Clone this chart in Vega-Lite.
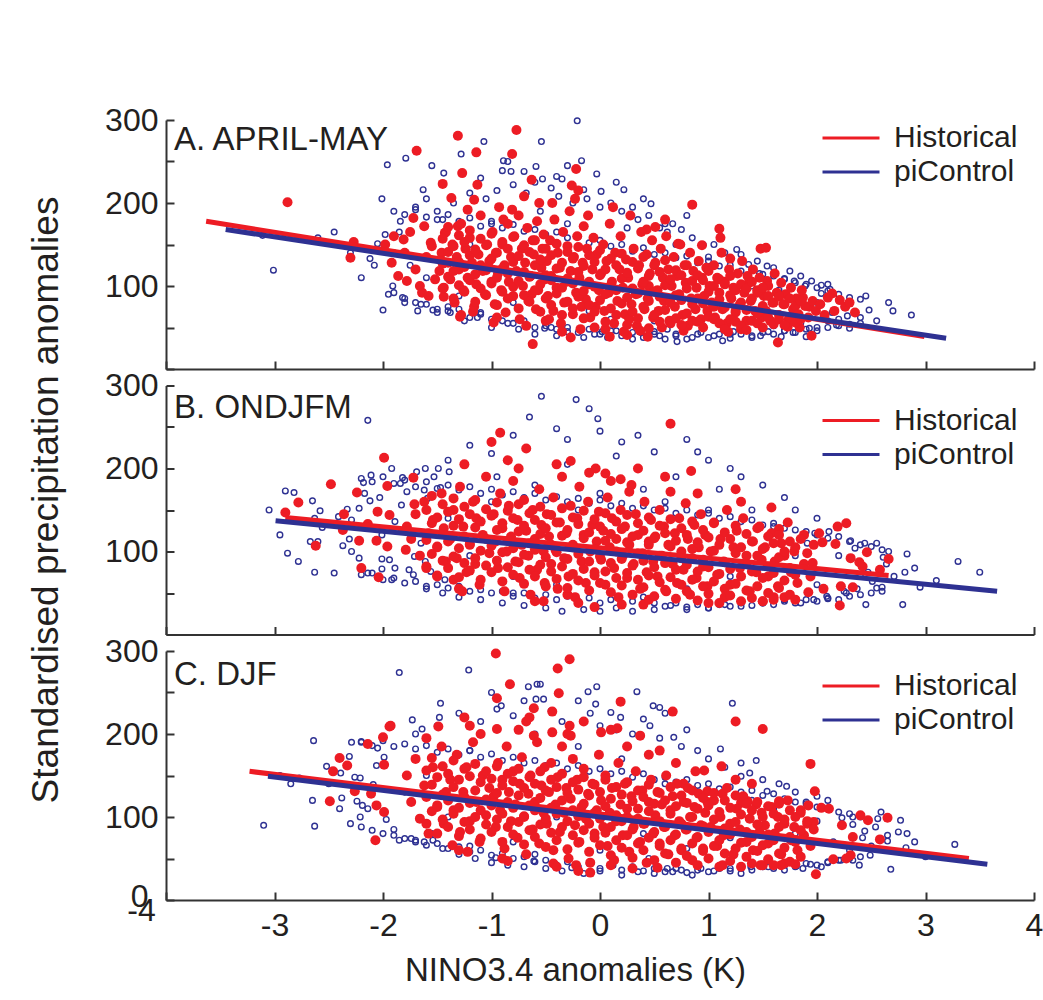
{
"$schema":"https://vega.github.io/schema/vega-lite/v6.json",
"padding":{"left":26,"top":104,"right":2,"bottom":2},
"config":{"font":"Liberation Sans","view":{"stroke":null},"axis":{"domainColor":"#333333","domainWidth":2,"tickColor":"#333333","tickWidth":2,"tickSize":-8,"grid":false,"labelFont":"Liberation Sans","labelFontSize":32,"labelColor":"#231f20","titleFont":"Liberation Sans","titleFontWeight":"normal","titleColor":"#231f20"}},
"datasets":{
"lines":[{"p":"A","s":"Historical","x":-3.63,"y":178},{"p":"A","s":"Historical","x":2.99,"y":39},{"p":"A","s":"piControl","x":-3.45,"y":168},{"p":"A","s":"piControl","x":3.19,"y":37},
{"p":"B","s":"Historical","x":-2.9,"y":141},{"p":"B","s":"Historical","x":2.66,"y":71},{"p":"B","s":"piControl","x":-2.99,"y":137},{"p":"B","s":"piControl","x":3.66,"y":52},
{"p":"C","s":"Historical","x":-3.23,"y":155},{"p":"C","s":"Historical","x":3.4,"y":50},{"p":"C","s":"piControl","x":-3.06,"y":149},{"p":"C","s":"piControl","x":3.57,"y":43}],
"labels":[{"p":"A","label":"A. APRIL-MAY"},{"p":"B","label":"B. ONDJFM"},{"p":"C","label":"C. DJF"}],
"A_pi":[{"x":-0.21,"y":299},{"x":-1.07,"y":274},{"x":-0.54,"y":274},{"x":-1.79,"y":254},{"x":-1.96,"y":246},{"x":-1.55,"y":245},{"x":-1.28,"y":259},{"x":-0.89,"y":251},{"x":-0.85,"y":250},{"x":-0.59,"y":244},{"x":-0.17,"y":251},{"x":-0.03,"y":235},{"x":-0.3,"y":245},{"x":-0.82,"y":238},{"x":-0.9,"y":239},{"x":-1.44,"y":236},{"x":-0.53,"y":229},{"x":-0.35,"y":229},{"x":-1.63,"y":216},{"x":-0.15,"y":216},{"x":0.22,"y":216},{"x":0.01,"y":214},{"x":0.47,"y":199},{"x":0.6,"y":175},{"x":0.67,"y":175},{"x":1.11,"y":160},{"x":1.26,"y":144},{"x":1.37,"y":126},{"x":1.54,"y":124},{"x":1.47,"y":115},{"x":-2.0,"y":71},{"x":-1.82,"y":86},{"x":-1.68,"y":70},{"x":-1.54,"y":71},{"x":-1.38,"y":68},{"x":-1.13,"y":62},{"x":-0.51,"y":49},{"x":0.02,"y":45},{"x":0.71,"y":33},{"x":1.13,"y":34},{"x":1.48,"y":40},{"x":1.23,"y":45},{"x":1.36,"y":47},{"x":0.93,"y":44},{"x":0.5,"y":45},{"x":-3.01,"y":119},{"x":-2.45,"y":165},{"x":-2.01,"y":205},{"x":-2.12,"y":133},{"x":-2.08,"y":125},{"x":-2.05,"y":151},{"x":-1.98,"y":162},{"x":-1.91,"y":100},{"x":-3.11,"y":161},{"x":-1.85,"y":165},{"x":-1.84,"y":178},{"x":2.66,"y":80},{"x":2.48,"y":71},{"x":2.87,"y":65},{"x":2.3,"y":49},{"x":2.04,"y":101},{"x":2.04,"y":91},{"x":2.12,"y":96},{"x":2.14,"y":68},{"x":2.28,"y":64},{"x":2.18,"y":53},{"x":1.7,"y":109},{"x":1.89,"y":100},{"x":1.79,"y":106},{"x":1.78,"y":44},{"x":1.67,"y":39},{"x":1.9,"y":39},{"x":1.93,"y":49},
{"x":-1.5,"y":190},{"x":-1.35,"y":200},{"x":-1.2,"y":212},{"x":-1.05,"y":205},{"x":-0.95,"y":215},{"x":-0.8,"y":222},{"x":-0.68,"y":212},{"x":-0.6,"y":225},{"x":-0.45,"y":218},{"x":-0.38,"y":208},{"x":-0.25,"y":200},{"x":-0.12,"y":205},{"x":0.0,"y":195},{"x":0.1,"y":200},{"x":0.2,"y":190},{"x":0.3,"y":195},{"x":0.35,"y":180},{"x":0.45,"y":185},{"x":0.55,"y":170},{"x":0.62,"y":165},{"x":0.75,"y":168},{"x":0.85,"y":158},{"x":0.95,"y":150},{"x":1.05,"y":150},{"x":1.15,"y":140},{"x":1.3,"y":138},{"x":1.45,"y":130},{"x":1.6,"y":122},{"x":1.75,"y":118},{"x":1.85,"y":112},{"x":1.95,"y":106},{"x":2.1,"y":102},{"x":-1.7,"y":195},{"x":-1.6,"y":205},{"x":-1.1,"y":230},{"x":-0.7,"y":238},{"x":-0.4,"y":232},{"x":0.15,"y":225},{"x":0.4,"y":205},{"x":0.8,"y":185},
{"x":-1.95,"y":90},{"x":-1.8,"y":80},{"x":-1.65,"y":78},{"x":-1.5,"y":68},{"x":-1.4,"y":75},{"x":-1.25,"y":58},{"x":-1.1,"y":68},{"x":-1.0,"y":50},{"x":-0.85,"y":55},{"x":-0.75,"y":48},{"x":-0.6,"y":42},{"x":-0.45,"y":50},{"x":-0.4,"y":40},{"x":-0.3,"y":45},{"x":-0.15,"y":38},{"x":-0.05,"y":42},{"x":0.07,"y":38},{"x":0.15,"y":46},{"x":0.3,"y":36},{"x":0.38,"y":44},{"x":0.55,"y":40},{"x":0.62,"y":48},{"x":0.7,"y":42},{"x":0.85,"y":38},{"x":0.95,"y":52},{"x":1.05,"y":40},{"x":1.2,"y":42},{"x":1.3,"y":52},{"x":1.4,"y":38},{"x":1.55,"y":45},{"x":1.6,"y":52},{"x":1.7,"y":46},{"x":1.85,"y":55},{"x":2.0,"y":50},{"x":2.1,"y":58},{"x":2.2,"y":60},{"x":2.4,"y":62},{"x":2.55,"y":58},
{"x":-1.9,"y":140},{"x":-1.75,"y":125},{"x":-1.6,"y":110},{"x":-1.45,"y":180},{"x":-1.3,"y":88},{"x":-1.2,"y":150},{"x":-1.0,"y":175},{"x":-0.8,"y":80},{"x":-0.55,"y":190},{"x":-0.3,"y":175},{"x":-0.1,"y":70},{"x":0.1,"y":60},{"x":0.25,"y":170},{"x":0.5,"y":58},{"x":0.7,"y":150},{"x":1.0,"y":135},{"x":1.2,"y":60},{"x":1.4,"y":100},{"x":1.65,"y":95},{"x":2.0,"y":80},{"x":2.25,"y":75},{"x":2.45,"y":88},{"x":2.7,"y":70},{"x":-2.3,"y":140},{"x":-2.6,"y":158},{"x":-2.2,"y":110},
{"x":-1.9,"y":190},{"x":-1.9,"y":92},{"x":-1.8,"y":186},{"x":-1.8,"y":85},{"x":-1.7,"y":192},{"x":-1.7,"y":80},{"x":-1.6,"y":183},{"x":-1.6,"y":78},{"x":-1.5,"y":180},{"x":-1.5,"y":72},{"x":-1.4,"y":186},{"x":-1.4,"y":70},{"x":-1.3,"y":178},{"x":-1.3,"y":72},{"x":-1.2,"y":182},{"x":-1.2,"y":62},{"x":-1.1,"y":172},{"x":-1.1,"y":66},{"x":-1.0,"y":178},{"x":-1.0,"y":60},{"x":-0.9,"y":170},{"x":-0.9,"y":58},{"x":-0.8,"y":174},{"x":-0.8,"y":55},{"x":-0.7,"y":166},{"x":-0.7,"y":58},{"x":-0.6,"y":168},{"x":-0.6,"y":50},{"x":-0.5,"y":162},{"x":-0.5,"y":52},{"x":-0.4,"y":165},{"x":-0.4,"y":48},{"x":-0.3,"y":158},{"x":-0.3,"y":50},{"x":-0.2,"y":160},{"x":-0.2,"y":44},{"x":-0.1,"y":152},{"x":-0.1,"y":48},{"x":0.0,"y":155},{"x":0.0,"y":42},{"x":0.1,"y":148},{"x":0.1,"y":46},{"x":0.2,"y":150},{"x":0.2,"y":40},{"x":0.3,"y":142},{"x":0.3,"y":44},{"x":0.4,"y":146},{"x":0.4,"y":38},{"x":0.5,"y":138},{"x":0.5,"y":42},{"x":0.6,"y":140},{"x":0.6,"y":36},{"x":0.7,"y":134},{"x":0.7,"y":40},{"x":0.8,"y":136},{"x":0.8,"y":36},{"x":0.9,"y":128},{"x":0.9,"y":42},{"x":1.0,"y":130},{"x":1.0,"y":38},{"x":1.1,"y":124},{"x":1.1,"y":42},{"x":1.2,"y":125},{"x":1.2,"y":37},{"x":1.3,"y":118},{"x":1.3,"y":42},{"x":1.4,"y":120},{"x":1.4,"y":40},{"x":1.5,"y":114},{"x":1.5,"y":44},{"x":1.6,"y":112},{"x":1.6,"y":42},{"x":1.7,"y":108},{"x":1.7,"y":46},{"x":1.8,"y":104},{"x":1.8,"y":44},{"x":1.9,"y":102},{"x":1.9,"y":48},{"x":2.0,"y":98},{"x":2.0,"y":46},{"x":2.1,"y":94},{"x":2.1,"y":50},{"x":2.2,"y":90},{"x":2.2,"y":52},{"x":2.3,"y":86},{"x":2.3,"y":54},{"x":2.4,"y":84},{"x":2.4,"y":55}],
"A_hist":[{"x":-2.88,"y":201},{"x":-2.27,"y":153},{"x":-2.3,"y":134},{"x":-1.72,"y":182},{"x":-1.69,"y":263},{"x":-0.77,"y":288},{"x":-1.31,"y":281},{"x":-1.14,"y":261},{"x":-0.81,"y":259},{"x":-1.27,"y":236},{"x":-1.45,"y":223},{"x":-1.13,"y":222},{"x":-0.63,"y":228},{"x":-0.22,"y":241},{"x":-0.26,"y":221},{"x":-0.2,"y":215},{"x":0.85,"y":198},{"x":1.1,"y":169},{"x":1.11,"y":158},{"x":1.48,"y":145},{"x":-0.62,"y":30},{"x":-0.27,"y":38},{"x":0.44,"y":39},{"x":0.09,"y":39},{"x":0.25,"y":41},{"x":1.64,"y":32},{"x":-0.98,"y":56},{"x":-1.29,"y":63},{"x":-1.64,"y":92},{"x":-1.37,"y":206},{"x":0.51,"y":171},{"x":0.43,"y":168},{"x":0.94,"y":149},{"x":0.72,"y":151},{"x":1.2,"y":133},{"x":1.36,"y":112},{"x":1.53,"y":146},{"x":1.54,"y":106},{"x":2.14,"y":91},{"x":2.21,"y":83},{"x":2.26,"y":75},{"x":1.95,"y":40},{"x":1.84,"y":50},{"x":1.73,"y":51},{"x":1.93,"y":75},{"x":1.87,"y":86},{"x":-1.62,"y":172},{"x":-1.81,"y":156},{"x":-1.78,"y":106},{"x":-1.44,"y":87},{"x":-1.28,"y":65},{"x":-1.17,"y":69},{"x":-1.56,"y":152},{"x":-1.43,"y":164},{"x":-1.31,"y":172},{"x":-1.22,"y":192},{"x":-1.16,"y":204},
{"x":-1.98,"y":150},{"x":-1.92,"y":128},{"x":-1.86,"y":112},{"x":-1.8,"y":140},{"x":-1.75,"y":165},{"x":-1.7,"y":120},{"x":-1.66,"y":100},{"x":-1.6,"y":135},{"x":-1.55,"y":148},{"x":-1.52,"y":108},{"x":-1.58,"y":88},{"x":-1.9,"y":160},
{"x":-1.48,"y":118},{"x":-1.46,"y":140},{"x":-1.44,"y":98},{"x":-1.42,"y":165},{"x":-1.4,"y":128},{"x":-1.38,"y":108},{"x":-1.36,"y":150},{"x":-1.34,"y":80},{"x":-1.32,"y":135},{"x":-1.3,"y":120},{"x":-1.28,"y":175},{"x":-1.26,"y":95},{"x":-1.24,"y":145},{"x":-1.22,"y":110},{"x":-1.2,"y":158},{"x":-1.18,"y":128},{"x":-1.16,"y":75},{"x":-1.14,"y":102},{"x":-1.12,"y":138},{"x":-1.1,"y":185},{"x":-1.08,"y":118},{"x":-1.06,"y":90},{"x":-1.04,"y":150},{"x":-1.02,"y":130},{"x":-1.0,"y":105},
{"x":-0.99,"y":165},{"x":-0.97,"y":78},{"x":-0.96,"y":140},{"x":-0.94,"y":115},{"x":-0.93,"y":195},{"x":-0.91,"y":95},{"x":-0.9,"y":150},{"x":-0.88,"y":125},{"x":-0.87,"y":68},{"x":-0.85,"y":175},{"x":-0.84,"y":105},{"x":-0.82,"y":135},{"x":-0.8,"y":88},{"x":-0.79,"y":160},{"x":-0.77,"y":118},{"x":-0.75,"y":185},{"x":-0.74,"y":60},{"x":-0.72,"y":145},{"x":-0.71,"y":100},{"x":-0.69,"y":128},{"x":-0.67,"y":170},{"x":-0.66,"y":82},{"x":-0.64,"y":112},{"x":-0.62,"y":155},{"x":-0.61,"y":138},{"x":-0.59,"y":72},{"x":-0.57,"y":95},{"x":-0.56,"y":200},{"x":-0.54,"y":122},{"x":-0.52,"y":162},{"x":-0.51,"y":108},{"x":-0.5,"y":58},{"x":-0.53,"y":145},{"x":-0.58,"y":178},{"x":-0.68,"y":52},{"x":-0.81,"y":192},{"x":-0.95,"y":62},{"x":-0.89,"y":180},{"x":-0.63,"y":90},{"x":-0.7,"y":208},
{"x":-0.49,"y":130},{"x":-0.48,"y":88},{"x":-0.46,"y":155},{"x":-0.45,"y":112},{"x":-0.43,"y":70},{"x":-0.42,"y":180},{"x":-0.4,"y":98},{"x":-0.39,"y":140},{"x":-0.37,"y":122},{"x":-0.36,"y":55},{"x":-0.34,"y":165},{"x":-0.33,"y":80},{"x":-0.31,"y":105},{"x":-0.3,"y":148},{"x":-0.28,"y":190},{"x":-0.27,"y":118},{"x":-0.25,"y":66},{"x":-0.24,"y":135},{"x":-0.22,"y":92},{"x":-0.21,"y":160},{"x":-0.19,"y":110},{"x":-0.18,"y":48},{"x":-0.16,"y":128},{"x":-0.15,"y":172},{"x":-0.13,"y":84},{"x":-0.12,"y":145},{"x":-0.1,"y":102},{"x":-0.09,"y":62},{"x":-0.07,"y":120},{"x":-0.06,"y":158},{"x":-0.04,"y":75},{"x":-0.03,"y":138},{"x":-0.01,"y":95},{"x":-0.44,"y":200},{"x":-0.35,"y":45},{"x":-0.23,"y":205},{"x":-0.11,"y":185},{"x":-0.05,"y":50},{"x":-0.47,"y":60},{"x":-0.17,"y":75},
{"x":0.01,"y":115},{"x":0.03,"y":150},{"x":0.04,"y":70},{"x":0.06,"y":130},{"x":0.08,"y":92},{"x":0.09,"y":175},{"x":0.11,"y":105},{"x":0.13,"y":55},{"x":0.14,"y":140},{"x":0.16,"y":82},{"x":0.18,"y":120},{"x":0.19,"y":160},{"x":0.21,"y":98},{"x":0.23,"y":66},{"x":0.24,"y":132},{"x":0.26,"y":110},{"x":0.28,"y":185},{"x":0.29,"y":78},{"x":0.31,"y":145},{"x":0.33,"y":90},{"x":0.34,"y":52},{"x":0.36,"y":125},{"x":0.38,"y":165},{"x":0.39,"y":102},{"x":0.41,"y":72},{"x":0.43,"y":138},{"x":0.44,"y":85},{"x":0.46,"y":115},{"x":0.48,"y":155},{"x":0.49,"y":62},{"x":0.12,"y":195},{"x":0.22,"y":45},{"x":0.37,"y":46},{"x":0.05,"y":48},{"x":0.27,"y":60},{"x":0.45,"y":100},
{"x":0.51,"y":128},{"x":0.53,"y":95},{"x":0.54,"y":70},{"x":0.56,"y":145},{"x":0.58,"y":110},{"x":0.59,"y":82},{"x":0.61,"y":160},{"x":0.63,"y":120},{"x":0.64,"y":58},{"x":0.66,"y":100},{"x":0.68,"y":135},{"x":0.69,"y":75},{"x":0.71,"y":112},{"x":0.73,"y":90},{"x":0.74,"y":150},{"x":0.76,"y":65},{"x":0.78,"y":125},{"x":0.79,"y":104},{"x":0.81,"y":52},{"x":0.83,"y":140},{"x":0.84,"y":85},{"x":0.86,"y":118},{"x":0.88,"y":72},{"x":0.89,"y":98},{"x":0.91,"y":130},{"x":0.93,"y":60},{"x":0.94,"y":110},{"x":0.96,"y":88},{"x":0.98,"y":122},{"x":0.99,"y":70},{"x":0.6,"y":180},{"x":0.77,"y":46},{"x":0.57,"y":50},
{"x":1.01,"y":100},{"x":1.03,"y":80},{"x":1.05,"y":125},{"x":1.06,"y":62},{"x":1.08,"y":110},{"x":1.1,"y":92},{"x":1.12,"y":140},{"x":1.13,"y":72},{"x":1.15,"y":105},{"x":1.17,"y":55},{"x":1.19,"y":120},{"x":1.21,"y":85},{"x":1.23,"y":98},{"x":1.25,"y":68},{"x":1.27,"y":115},{"x":1.29,"y":78},{"x":1.31,"y":130},{"x":1.33,"y":92},{"x":1.35,"y":58},{"x":1.37,"y":104},{"x":1.39,"y":82},{"x":1.41,"y":120},{"x":1.43,"y":70},{"x":1.45,"y":95},{"x":1.47,"y":110},{"x":1.49,"y":62},{"x":1.18,"y":45},{"x":1.3,"y":48},
{"x":1.51,"y":88},{"x":1.53,"y":70},{"x":1.55,"y":100},{"x":1.57,"y":58},{"x":1.59,"y":80},{"x":1.61,"y":115},{"x":1.63,"y":92},{"x":1.65,"y":65},{"x":1.67,"y":104},{"x":1.69,"y":78},{"x":1.71,"y":90},{"x":1.74,"y":60},{"x":1.76,"y":98},{"x":1.78,"y":72},{"x":1.81,"y":85},{"x":1.83,"y":66},{"x":1.86,"y":95},{"x":1.89,"y":76},{"x":1.92,"y":62},{"x":1.96,"y":82},{"x":1.99,"y":70},
{"x":2.03,"y":78},{"x":2.07,"y":65},{"x":2.1,"y":86},{"x":2.16,"y":70},{"x":2.3,"y":80},{"x":2.35,"y":68},
{"x":-1.45,"y":97},{"x":-1.45,"y":127},{"x":-1.45,"y":157},{"x":-1.4,"y":111},{"x":-1.4,"y":141},{"x":-1.4,"y":171},{"x":-1.35,"y":85},{"x":-1.35,"y":118},{"x":-1.35,"y":148},{"x":-1.3,"y":101},{"x":-1.3,"y":129},{"x":-1.3,"y":161},{"x":-1.25,"y":93},{"x":-1.25,"y":123},{"x":-1.25,"y":153},{"x":-1.2,"y":107},{"x":-1.2,"y":137},{"x":-1.2,"y":167},{"x":-1.15,"y":81},{"x":-1.15,"y":114},{"x":-1.15,"y":144},{"x":-1.1,"y":97},{"x":-1.1,"y":125},{"x":-1.1,"y":157},{"x":-1.05,"y":89},{"x":-1.05,"y":119},{"x":-1.05,"y":149},{"x":-1.0,"y":103},{"x":-1.0,"y":133},{"x":-1.0,"y":163},{"x":-0.95,"y":77},{"x":-0.95,"y":110},{"x":-0.95,"y":140},{"x":-0.9,"y":93},{"x":-0.9,"y":121},{"x":-0.9,"y":153},{"x":-0.85,"y":85},{"x":-0.85,"y":115},{"x":-0.85,"y":145},{"x":-0.8,"y":99},{"x":-0.8,"y":129},{"x":-0.8,"y":159},{"x":-0.75,"y":73},{"x":-0.75,"y":106},{"x":-0.75,"y":136},{"x":-0.7,"y":89},{"x":-0.7,"y":117},{"x":-0.7,"y":149},{"x":-0.65,"y":81},{"x":-0.65,"y":111},{"x":-0.65,"y":141},{"x":-0.6,"y":95},{"x":-0.6,"y":125},{"x":-0.6,"y":155},{"x":-0.55,"y":69},{"x":-0.55,"y":102},{"x":-0.55,"y":132},{"x":-0.5,"y":85},{"x":-0.5,"y":113},{"x":-0.5,"y":145},{"x":-0.45,"y":77},{"x":-0.45,"y":107},{"x":-0.45,"y":137},{"x":-0.4,"y":91},{"x":-0.4,"y":121},{"x":-0.4,"y":151},{"x":-0.35,"y":65},{"x":-0.35,"y":98},{"x":-0.35,"y":128},{"x":-0.3,"y":81},{"x":-0.3,"y":109},{"x":-0.3,"y":141},{"x":-0.25,"y":73},{"x":-0.25,"y":103},{"x":-0.25,"y":133},{"x":-0.2,"y":87},{"x":-0.2,"y":117},{"x":-0.2,"y":147},{"x":-0.15,"y":61},{"x":-0.15,"y":94},{"x":-0.15,"y":124},{"x":-0.1,"y":77},{"x":-0.1,"y":105},{"x":-0.1,"y":137},{"x":-0.05,"y":69},{"x":-0.05,"y":99},{"x":-0.05,"y":129},{"x":0.0,"y":83},{"x":0.0,"y":113},{"x":0.0,"y":143},{"x":0.05,"y":57},{"x":0.05,"y":90},{"x":0.05,"y":120},{"x":0.1,"y":73},{"x":0.1,"y":101},{"x":0.1,"y":133},{"x":0.15,"y":65},{"x":0.15,"y":95},{"x":0.15,"y":125},{"x":0.2,"y":79},{"x":0.2,"y":109},{"x":0.2,"y":139},{"x":0.25,"y":53},{"x":0.25,"y":86},{"x":0.25,"y":116},{"x":0.3,"y":69},{"x":0.3,"y":97},{"x":0.3,"y":129},{"x":0.35,"y":61},{"x":0.35,"y":91},{"x":0.35,"y":121},{"x":0.4,"y":75},{"x":0.4,"y":105},{"x":0.4,"y":135},{"x":0.45,"y":49},{"x":0.45,"y":82},{"x":0.45,"y":112},{"x":0.5,"y":65},{"x":0.5,"y":93},{"x":0.5,"y":125},{"x":0.55,"y":57},{"x":0.55,"y":87},{"x":0.55,"y":117},{"x":0.6,"y":71},{"x":0.6,"y":101},{"x":0.6,"y":131},{"x":0.65,"y":55},{"x":0.65,"y":80},{"x":0.65,"y":108},{"x":0.7,"y":61},{"x":0.7,"y":89},{"x":0.7,"y":119},{"x":0.75,"y":53},{"x":0.75,"y":83},{"x":0.75,"y":113},{"x":0.8,"y":67},{"x":0.8,"y":97},{"x":0.8,"y":125},{"x":0.85,"y":58},{"x":0.85,"y":78},{"x":0.85,"y":106},{"x":0.9,"y":57},{"x":0.9,"y":85},{"x":0.9,"y":113},{"x":0.95,"y":50},{"x":0.95,"y":79},{"x":0.95,"y":107},{"x":1.0,"y":63},{"x":1.0,"y":93},{"x":1.0,"y":118},{"x":1.05,"y":60},{"x":1.05,"y":75},{"x":1.05,"y":100},{"x":1.1,"y":55},{"x":1.1,"y":84},{"x":1.1,"y":108},{"x":1.15,"y":48},{"x":1.15,"y":74},{"x":1.15,"y":102},{"x":1.2,"y":60},{"x":1.2,"y":89},{"x":1.2,"y":112},{"x":1.25,"y":57},{"x":1.25,"y":70},{"x":1.25,"y":95},{"x":1.3,"y":52},{"x":1.3,"y":80},{"x":1.3,"y":102},{"x":1.35,"y":47},{"x":1.35,"y":71},{"x":1.35,"y":97},{"x":1.4,"y":58},{"x":1.4,"y":85},{"x":1.4,"y":105},{"x":1.45,"y":55},{"x":1.45,"y":67},{"x":1.45,"y":92},{"x":1.5,"y":50},{"x":1.5,"y":76},{"x":1.5,"y":98},{"x":1.55,"y":62},{"x":1.55,"y":88},{"x":1.6,"y":54},{"x":1.6,"y":80},{"x":1.65,"y":60},{"x":1.65,"y":87},{"x":1.7,"y":53},{"x":1.7,"y":78},{"x":1.75,"y":62},{"x":1.75,"y":85},{"x":1.8,"y":56},{"x":1.8,"y":76},{"x":1.85,"y":60},{"x":1.85,"y":82}],
"B_pi":[{"x":-2.82,"y":171},{"x":-2.65,"y":161},{"x":-2.58,"y":149},{"x":-2.78,"y":88},{"x":-2.63,"y":75},{"x":-2.45,"y":74},{"x":-2.67,"y":112},{"x":-2.6,"y":112},{"x":-2.63,"y":140},{"x":-2.56,"y":129},{"x":-2.41,"y":142},{"x":-2.37,"y":107},{"x":-2.29,"y":100},{"x":-2.31,"y":115},{"x":-2.29,"y":138},{"x":-2.33,"y":151},{"x":-2.22,"y":152},{"x":-2.18,"y":183},{"x":-2.11,"y":192},{"x":-2.17,"y":170},{"x":-2.22,"y":92},{"x":-2.14,"y":74},{"x":-2.01,"y":91},{"x":-1.94,"y":90},{"x":-1.92,"y":66},{"x":-2.01,"y":79},{"x":-2.12,"y":161},{"x":-1.92,"y":200},{"x":-1.82,"y":189},{"x":-1.84,"y":182},{"x":-1.69,"y":196},{"x":-1.61,"y":200},{"x":-1.53,"y":190},{"x":-1.49,"y":200},{"x":-1.39,"y":196},{"x":-1.78,"y":172},{"x":-1.62,"y":174},{"x":-1.47,"y":177},{"x":-2.03,"y":165},{"x":-1.59,"y":164},{"x":-1.89,"y":80},{"x":-1.76,"y":78},{"x":-1.72,"y":72},{"x":-1.61,"y":88},{"x":-1.71,"y":94},{"x":-1.56,"y":76},{"x":-1.43,"y":66},{"x":-2.01,"y":120},{"x":-1.83,"y":124},{"x":-1.89,"y":136},{"x":-1.78,"y":128},{"x":-1.83,"y":156},{"x":-2.14,"y":258},
{"x":3.5,"y":75},{"x":2.83,"y":97},{"x":2.66,"y":100},{"x":2.81,"y":75},{"x":2.95,"y":57},{"x":2.79,"y":36},{"x":2.45,"y":36},{"x":2.71,"y":70},{"x":2.6,"y":57},{"x":2.55,"y":56},{"x":2.51,"y":64},{"x":2.44,"y":110},{"x":2.35,"y":104},{"x":2.31,"y":113},{"x":2.11,"y":124},{"x":1.98,"y":122},{"x":1.91,"y":110},{"x":2.61,"y":93},{"x":2.64,"y":85},{"x":2.37,"y":55},{"x":2.27,"y":50},{"x":2.1,"y":43},{"x":1.97,"y":42},{"x":2.09,"y":46},{"x":2.25,"y":52},{"x":2.47,"y":75},
{"x":-3.05,"y":150},{"x":-2.95,"y":120},{"x":-2.88,"y":98},{"x":-2.9,"y":173},
{"x":-0.54,"y":287},{"x":-0.22,"y":283},{"x":-0.1,"y":272},{"x":-0.02,"y":260},{"x":0.8,"y":235},{"x":-1.2,"y":228},{"x":-0.8,"y":240},{"x":-0.4,"y":248},{"x":0.2,"y":232},{"x":0.5,"y":220},{"x":1.0,"y":210},{"x":1.3,"y":190},{"x":1.5,"y":180},{"x":-0.65,"y":262},{"x":0.0,"y":245},{"x":0.35,"y":240},{"x":0.15,"y":215},{"x":-1.4,"y":210},{"x":-1.0,"y":218},{"x":1.8,"y":150},{"x":2.0,"y":140},{"x":1.7,"y":165},{"x":1.2,"y":200},{"x":0.9,"y":220},{"x":-0.3,"y":235},
{"x":-1.3,"y":45},{"x":-1.1,"y":42},{"x":-0.9,"y":38},{"x":-0.7,"y":35},{"x":-0.5,"y":32},{"x":-0.35,"y":28},{"x":-0.15,"y":30},{"x":0.0,"y":28},{"x":0.15,"y":32},{"x":0.3,"y":28},{"x":0.5,"y":30},{"x":0.65,"y":35},{"x":0.8,"y":30},{"x":1.0,"y":32},{"x":1.15,"y":36},{"x":1.3,"y":34},{"x":1.5,"y":38},{"x":1.7,"y":42},{"x":1.85,"y":38},{"x":-1.6,"y":55},{"x":-1.45,"y":50},{"x":-0.8,"y":50},{"x":0.4,"y":45},{"x":1.2,"y":48},
{"x":-1.65,"y":110},{"x":-1.4,"y":140},{"x":-1.2,"y":95},{"x":-1.0,"y":160},{"x":-0.8,"y":70},{"x":-0.6,"y":180},{"x":-0.4,"y":60},{"x":-0.2,"y":150},{"x":0.0,"y":170},{"x":0.2,"y":58},{"x":0.4,"y":175},{"x":0.6,"y":160},{"x":0.8,"y":55},{"x":1.0,"y":150},{"x":1.2,"y":70},{"x":1.4,"y":150},{"x":1.6,"y":130},{"x":1.8,"y":95},{"x":2.0,"y":60},{"x":2.2,"y":95},{"x":2.4,"y":72},{"x":2.55,"y":110},{"x":2.9,"y":80},{"x":3.1,"y":65},{"x":3.3,"y":88},{"x":-0.95,"y":190},{"x":-0.3,"y":205},{"x":0.7,"y":190},{"x":1.1,"y":175},
{"x":-2.2,"y":188},{"x":-2.2,"y":72},{"x":-2.1,"y":184},{"x":-2.1,"y":74},{"x":-2.0,"y":190},{"x":-2.0,"y":66},{"x":-1.9,"y":182},{"x":-1.9,"y":68},{"x":-1.8,"y":186},{"x":-1.8,"y":62},{"x":-1.7,"y":178},{"x":-1.7,"y":64},{"x":-1.6,"y":184},{"x":-1.6,"y":58},{"x":-1.5,"y":176},{"x":-1.5,"y":60},{"x":-1.4,"y":180},{"x":-1.4,"y":56},{"x":-1.3,"y":174},{"x":-1.3,"y":58},{"x":-1.2,"y":178},{"x":-1.2,"y":52},{"x":-1.1,"y":170},{"x":-1.1,"y":54},{"x":-1.0,"y":175},{"x":-1.0,"y":50},{"x":-0.9,"y":168},{"x":-0.9,"y":52},{"x":-0.8,"y":172},{"x":-0.8,"y":46},{"x":-0.7,"y":165},{"x":-0.7,"y":50},{"x":-0.6,"y":170},{"x":-0.6,"y":44},{"x":-0.5,"y":162},{"x":-0.5,"y":48},{"x":-0.4,"y":166},{"x":-0.4,"y":42},{"x":-0.3,"y":160},{"x":-0.3,"y":46},{"x":-0.2,"y":164},{"x":-0.2,"y":40},{"x":-0.1,"y":158},{"x":-0.1,"y":44},{"x":0.0,"y":162},{"x":0.0,"y":38},{"x":0.1,"y":155},{"x":0.1,"y":42},{"x":0.2,"y":158},{"x":0.2,"y":36},{"x":0.3,"y":152},{"x":0.3,"y":40},{"x":0.4,"y":155},{"x":0.4,"y":35},{"x":0.5,"y":150},{"x":0.5,"y":38},{"x":0.6,"y":152},{"x":0.6,"y":34},{"x":0.7,"y":146},{"x":0.7,"y":38},{"x":0.8,"y":150},{"x":0.8,"y":33},{"x":0.9,"y":144},{"x":0.9,"y":36},{"x":1.0,"y":146},{"x":1.0,"y":32},{"x":1.1,"y":140},{"x":1.1,"y":36},{"x":1.2,"y":142},{"x":1.2,"y":34},{"x":1.3,"y":136},{"x":1.3,"y":38},{"x":1.4,"y":138},{"x":1.4,"y":35},{"x":1.5,"y":132},{"x":1.5,"y":38},{"x":1.6,"y":134},{"x":1.6,"y":36},{"x":1.7,"y":128},{"x":1.7,"y":40},{"x":1.8,"y":126},{"x":1.8,"y":38},{"x":1.9,"y":124},{"x":1.9,"y":42},{"x":2.0,"y":120},{"x":2.0,"y":40},{"x":2.1,"y":116},{"x":2.1,"y":44},{"x":2.2,"y":118},{"x":2.2,"y":42},{"x":2.3,"y":112},{"x":2.3,"y":46},{"x":2.4,"y":108},{"x":2.4,"y":48},{"x":2.5,"y":106},{"x":2.5,"y":50},{"x":2.6,"y":102},{"x":2.6,"y":52}],
"B_hist":[{"x":-2.9,"y":147},{"x":-2.78,"y":159},{"x":-2.48,"y":181},{"x":-2.24,"y":171},{"x":-2.62,"y":107},{"x":-2.36,"y":145},{"x":-2.37,"y":126},{"x":-2.2,"y":80},{"x":-2.04,"y":69},{"x":-2.22,"y":113},{"x":-2.06,"y":113},{"x":-2.14,"y":133},{"x":-1.96,"y":179},{"x":-1.72,"y":189},{"x":-2.05,"y":148},{"x":-1.94,"y":144},{"x":-1.71,"y":157},{"x":-1.96,"y":106},{"x":-1.79,"y":102},{"x":-1.5,"y":70},{"x":-1.35,"y":66},{"x":-1.99,"y":213},
{"x":-0.92,"y":243},{"x":-1.0,"y":232},{"x":-0.68,"y":224},{"x":-0.27,"y":209},{"x":-0.04,"y":200},{"x":0.05,"y":194},{"x":0.19,"y":187},{"x":0.65,"y":254},{"x":0.84,"y":197},{"x":0.27,"y":172},{"x":1.25,"y":175},{"x":1.58,"y":153},{"x":1.65,"y":127},
{"x":-0.05,"y":33},{"x":-0.52,"y":40},{"x":-1.27,"y":52},{"x":0.4,"y":36},{"x":1.0,"y":38},{"x":1.5,"y":40},
{"x":2.27,"y":134},{"x":2.19,"y":130},{"x":2.02,"y":122},{"x":1.88,"y":120},{"x":2.17,"y":109},{"x":2.46,"y":99},{"x":2.66,"y":91},{"x":2.58,"y":78},{"x":2.31,"y":92},{"x":2.39,"y":87},{"x":2.42,"y":82},{"x":2.05,"y":111},{"x":1.96,"y":86},{"x":2.22,"y":58},{"x":2.33,"y":57},{"x":2.06,"y":55},{"x":1.92,"y":51},{"x":2.21,"y":35},
{"x":-1.78,"y":130},{"x":-1.74,"y":115},{"x":-1.7,"y":145},{"x":-1.66,"y":95},{"x":-1.62,"y":160},{"x":-1.58,"y":122},{"x":-1.54,"y":138},{"x":-1.5,"y":105},{"x":-1.46,"y":170},{"x":-1.42,"y":88},{"x":-1.44,"y":128},{"x":-1.6,"y":80},
{"x":-1.38,"y":115},{"x":-1.35,"y":150},{"x":-1.32,"y":92},{"x":-1.29,"y":178},{"x":-1.26,"y":130},{"x":-1.23,"y":75},{"x":-1.2,"y":108},{"x":-1.17,"y":160},{"x":-1.14,"y":140},{"x":-1.11,"y":60},{"x":-1.08,"y":120},{"x":-1.05,"y":190},{"x":-1.02,"y":98},{"x":-1.3,"y":55},{"x":-1.15,"y":85},{"x":-1.25,"y":205},
{"x":-0.98,"y":145},{"x":-0.96,"y":112},{"x":-0.94,"y":80},{"x":-0.92,"y":170},{"x":-0.9,"y":128},{"x":-0.88,"y":52},{"x":-0.86,"y":100},{"x":-0.84,"y":155},{"x":-0.82,"y":118},{"x":-0.8,"y":185},{"x":-0.78,"y":88},{"x":-0.76,"y":138},{"x":-0.74,"y":68},{"x":-0.72,"y":108},{"x":-0.7,"y":162},{"x":-0.68,"y":125},{"x":-0.66,"y":95},{"x":-0.64,"y":48},{"x":-0.62,"y":150},{"x":-0.6,"y":115},{"x":-0.58,"y":78},{"x":-0.56,"y":175},{"x":-0.54,"y":132},{"x":-0.52,"y":100},{"x":-0.51,"y":62},{"x":-0.75,"y":200},{"x":-0.85,"y":210},{"x":-0.6,"y":40},
{"x":-0.49,"y":145},{"x":-0.47,"y":118},{"x":-0.45,"y":85},{"x":-0.43,"y":165},{"x":-0.41,"y":102},{"x":-0.39,"y":55},{"x":-0.37,"y":135},{"x":-0.35,"y":190},{"x":-0.33,"y":92},{"x":-0.31,"y":122},{"x":-0.29,"y":70},{"x":-0.27,"y":155},{"x":-0.25,"y":108},{"x":-0.23,"y":45},{"x":-0.21,"y":140},{"x":-0.19,"y":178},{"x":-0.17,"y":88},{"x":-0.15,"y":120},{"x":-0.13,"y":62},{"x":-0.11,"y":160},{"x":-0.09,"y":100},{"x":-0.07,"y":132},{"x":-0.05,"y":75},{"x":-0.03,"y":112},{"x":-0.01,"y":148},{"x":-0.4,"y":205},{"x":-0.2,"y":38},{"x":-0.1,"y":195},{"x":-0.3,"y":48},
{"x":0.01,"y":90},{"x":0.03,"y":125},{"x":0.05,"y":60},{"x":0.07,"y":165},{"x":0.09,"y":105},{"x":0.11,"y":140},{"x":0.13,"y":80},{"x":0.15,"y":115},{"x":0.17,"y":45},{"x":0.19,"y":150},{"x":0.21,"y":95},{"x":0.23,"y":130},{"x":0.25,"y":68},{"x":0.27,"y":108},{"x":0.29,"y":180},{"x":0.31,"y":85},{"x":0.33,"y":145},{"x":0.35,"y":120},{"x":0.37,"y":55},{"x":0.39,"y":98},{"x":0.41,"y":160},{"x":0.43,"y":75},{"x":0.45,"y":112},{"x":0.47,"y":138},{"x":0.49,"y":88},{"x":0.1,"y":185},{"x":0.35,"y":200},{"x":0.2,"y":36},{"x":0.45,"y":42},
{"x":0.51,"y":118},{"x":0.53,"y":70},{"x":0.55,"y":150},{"x":0.57,"y":95},{"x":0.59,"y":130},{"x":0.61,"y":52},{"x":0.63,"y":108},{"x":0.65,"y":172},{"x":0.67,"y":85},{"x":0.69,"y":122},{"x":0.71,"y":62},{"x":0.73,"y":140},{"x":0.75,"y":100},{"x":0.77,"y":78},{"x":0.79,"y":158},{"x":0.81,"y":115},{"x":0.83,"y":48},{"x":0.85,"y":92},{"x":0.87,"y":132},{"x":0.89,"y":68},{"x":0.91,"y":105},{"x":0.93,"y":145},{"x":0.95,"y":82},{"x":0.97,"y":120},{"x":0.99,"y":58},{"x":0.6,"y":190},{"x":0.9,"y":170},
{"x":1.02,"y":100},{"x":1.05,"y":135},{"x":1.08,"y":72},{"x":1.11,"y":115},{"x":1.14,"y":88},{"x":1.17,"y":150},{"x":1.2,"y":60},{"x":1.23,"y":105},{"x":1.26,"y":125},{"x":1.29,"y":80},{"x":1.32,"y":140},{"x":1.35,"y":95},{"x":1.38,"y":52},{"x":1.41,"y":112},{"x":1.44,"y":75},{"x":1.47,"y":130},{"x":1.49,"y":90},{"x":1.15,"y":45},{"x":1.3,"y":160},
{"x":1.52,"y":105},{"x":1.55,"y":70},{"x":1.58,"y":122},{"x":1.61,"y":88},{"x":1.64,"y":58},{"x":1.67,"y":110},{"x":1.7,"y":95},{"x":1.73,"y":135},{"x":1.76,"y":75},{"x":1.79,"y":100},{"x":1.82,"y":62},{"x":1.85,"y":115},{"x":1.88,"y":85},{"x":1.91,"y":98},{"x":1.94,"y":70},{"x":1.97,"y":108},{"x":1.6,"y":45},
{"x":-1.6,"y":82},{"x":-1.6,"y":114},{"x":-1.6,"y":150},{"x":-1.55,"y":97},{"x":-1.55,"y":134},{"x":-1.55,"y":167},{"x":-1.5,"y":71},{"x":-1.5,"y":106},{"x":-1.5,"y":141},{"x":-1.45,"y":89},{"x":-1.45,"y":121},{"x":-1.45,"y":157},{"x":-1.4,"y":80},{"x":-1.4,"y":112},{"x":-1.4,"y":148},{"x":-1.35,"y":94},{"x":-1.35,"y":131},{"x":-1.35,"y":164},{"x":-1.3,"y":69},{"x":-1.3,"y":104},{"x":-1.3,"y":139},{"x":-1.25,"y":86},{"x":-1.25,"y":118},{"x":-1.25,"y":154},{"x":-1.2,"y":77},{"x":-1.2,"y":109},{"x":-1.2,"y":145},{"x":-1.15,"y":92},{"x":-1.15,"y":129},{"x":-1.15,"y":162},{"x":-1.1,"y":66},{"x":-1.1,"y":101},{"x":-1.1,"y":136},{"x":-1.05,"y":83},{"x":-1.05,"y":115},{"x":-1.05,"y":151},{"x":-1.0,"y":75},{"x":-1.0,"y":107},{"x":-1.0,"y":143},{"x":-0.95,"y":89},{"x":-0.95,"y":126},{"x":-0.95,"y":159},{"x":-0.9,"y":64},{"x":-0.9,"y":99},{"x":-0.9,"y":134},{"x":-0.85,"y":81},{"x":-0.85,"y":113},{"x":-0.85,"y":149},{"x":-0.8,"y":72},{"x":-0.8,"y":104},{"x":-0.8,"y":140},{"x":-0.75,"y":87},{"x":-0.75,"y":124},{"x":-0.75,"y":157},{"x":-0.7,"y":61},{"x":-0.7,"y":96},{"x":-0.7,"y":131},{"x":-0.65,"y":78},{"x":-0.65,"y":110},{"x":-0.65,"y":146},{"x":-0.6,"y":70},{"x":-0.6,"y":102},{"x":-0.6,"y":138},{"x":-0.55,"y":84},{"x":-0.55,"y":121},{"x":-0.55,"y":154},{"x":-0.5,"y":58},{"x":-0.5,"y":93},{"x":-0.5,"y":128},{"x":-0.45,"y":76},{"x":-0.45,"y":108},{"x":-0.45,"y":144},{"x":-0.4,"y":67},{"x":-0.4,"y":99},{"x":-0.4,"y":135},{"x":-0.35,"y":82},{"x":-0.35,"y":119},{"x":-0.35,"y":152},{"x":-0.3,"y":56},{"x":-0.3,"y":91},{"x":-0.3,"y":126},{"x":-0.25,"y":73},{"x":-0.25,"y":105},{"x":-0.25,"y":141},{"x":-0.2,"y":65},{"x":-0.2,"y":97},{"x":-0.2,"y":133},{"x":-0.15,"y":79},{"x":-0.15,"y":116},{"x":-0.15,"y":149},{"x":-0.1,"y":53},{"x":-0.1,"y":88},{"x":-0.1,"y":123},{"x":-0.05,"y":71},{"x":-0.05,"y":103},{"x":-0.05,"y":139},{"x":0.0,"y":62},{"x":0.0,"y":94},{"x":0.0,"y":130},{"x":0.05,"y":76},{"x":0.05,"y":113},{"x":0.05,"y":146},{"x":0.1,"y":51},{"x":0.1,"y":86},{"x":0.1,"y":121},{"x":0.15,"y":68},{"x":0.15,"y":100},{"x":0.15,"y":136},{"x":0.2,"y":59},{"x":0.2,"y":91},{"x":0.2,"y":127},{"x":0.25,"y":74},{"x":0.25,"y":111},{"x":0.25,"y":144},{"x":0.3,"y":48},{"x":0.3,"y":83},{"x":0.3,"y":118},{"x":0.35,"y":66},{"x":0.35,"y":98},{"x":0.35,"y":134},{"x":0.4,"y":57},{"x":0.4,"y":89},{"x":0.4,"y":125},{"x":0.45,"y":71},{"x":0.45,"y":108},{"x":0.45,"y":141},{"x":0.5,"y":46},{"x":0.5,"y":81},{"x":0.5,"y":116},{"x":0.55,"y":63},{"x":0.55,"y":95},{"x":0.55,"y":131},{"x":0.6,"y":54},{"x":0.6,"y":86},{"x":0.6,"y":122},{"x":0.65,"y":69},{"x":0.65,"y":106},{"x":0.65,"y":139},{"x":0.7,"y":43},{"x":0.7,"y":78},{"x":0.7,"y":113},{"x":0.75,"y":60},{"x":0.75,"y":92},{"x":0.75,"y":128},{"x":0.8,"y":52},{"x":0.8,"y":84},{"x":0.8,"y":120},{"x":0.85,"y":66},{"x":0.85,"y":103},{"x":0.85,"y":136},{"x":0.9,"y":41},{"x":0.9,"y":76},{"x":0.9,"y":111},{"x":0.95,"y":58},{"x":0.95,"y":90},{"x":0.95,"y":126},{"x":1.0,"y":49},{"x":1.0,"y":81},{"x":1.0,"y":117},{"x":1.05,"y":64},{"x":1.05,"y":101},{"x":1.05,"y":134},{"x":1.1,"y":38},{"x":1.1,"y":73},{"x":1.1,"y":108},{"x":1.15,"y":55},{"x":1.15,"y":87},{"x":1.15,"y":123},{"x":1.2,"y":47},{"x":1.2,"y":79},{"x":1.2,"y":115},{"x":1.25,"y":61},{"x":1.25,"y":98},{"x":1.25,"y":131},{"x":1.3,"y":40},{"x":1.3,"y":70},{"x":1.3,"y":105},{"x":1.35,"y":53},{"x":1.35,"y":85},{"x":1.35,"y":121},{"x":1.4,"y":44},{"x":1.4,"y":76},{"x":1.4,"y":112},{"x":1.45,"y":58},{"x":1.45,"y":95},{"x":1.45,"y":128},{"x":1.5,"y":40},{"x":1.5,"y":68},{"x":1.5,"y":103},{"x":1.55,"y":50},{"x":1.55,"y":82},{"x":1.55,"y":118},{"x":1.6,"y":42},{"x":1.6,"y":74},{"x":1.6,"y":110},{"x":1.65,"y":56},{"x":1.65,"y":93},{"x":1.65,"y":120},{"x":1.7,"y":45},{"x":1.7,"y":65},{"x":1.7,"y":100},{"x":1.75,"y":48},{"x":1.75,"y":80},{"x":1.75,"y":112},{"x":1.8,"y":42},{"x":1.8,"y":72},{"x":1.8,"y":105}],
"C_pi":[{"x":-1.85,"y":274},{"x":-1.21,"y":277},{"x":-0.66,"y":257},{"x":-0.58,"y":260},{"x":-0.55,"y":260},{"x":-0.03,"y":257},{"x":-0.11,"y":251},{"x":0.34,"y":251},{"x":1.22,"y":237},{"x":0.49,"y":234},{"x":0.55,"y":232},{"x":-1.47,"y":237},{"x":-0.91,"y":234},{"x":-0.59,"y":242},{"x":-0.52,"y":242},{"x":-0.09,"y":225},{"x":-0.04,"y":236},{"x":0.1,"y":226},{"x":0.19,"y":220},{"x":0.46,"y":210},{"x":0.68,"y":196},{"x":1.11,"y":182},{"x":1.44,"y":168},{"x":1.38,"y":153},{"x":1.3,"y":149},{"x":1.72,"y":137},{"x":1.54,"y":131},{"x":-1.48,"y":220},{"x":-1.73,"y":217},{"x":-1.64,"y":206},{"x":-1.85,"y":72},{"x":-1.74,"y":74},{"x":-1.62,"y":70},{"x":-1.54,"y":72},{"x":-0.96,"y":51},{"x":-0.26,"y":39},{"x":0.62,"y":38},{"x":0.67,"y":34},{"x":1.39,"y":40},{"x":1.81,"y":41},{"x":0.93,"y":38},{"x":0.12,"y":42},{"x":-0.61,"y":47},
{"x":3.27,"y":67},{"x":2.77,"y":96},{"x":2.59,"y":106},{"x":2.56,"y":98},{"x":2.83,"y":80},{"x":2.75,"y":82},{"x":2.65,"y":78},{"x":2.65,"y":71},{"x":2.82,"y":63},{"x":2.68,"y":37},{"x":2.39,"y":42},{"x":2.49,"y":54},{"x":2.54,"y":88},{"x":2.44,"y":83},{"x":2.42,"y":75},{"x":2.33,"y":100},{"x":2.23,"y":99},{"x":2.33,"y":91},{"x":2.33,"y":48},{"x":2.22,"y":48},{"x":2.04,"y":40},{"x":1.94,"y":43},{"x":1.87,"y":38},{"x":1.9,"y":118},
{"x":-2.64,"y":192},{"x":-2.63,"y":89},{"x":-2.52,"y":161},{"x":-2.39,"y":153},{"x":-2.31,"y":173},{"x":-2.29,"y":190},{"x":-2.2,"y":191},{"x":-2.26,"y":148},{"x":-2.21,"y":147},{"x":-2.3,"y":92},{"x":-2.21,"y":100},{"x":-2.24,"y":119},{"x":-2.38,"y":123},{"x":-2.19,"y":114},{"x":-2.14,"y":110},{"x":-2.09,"y":139},{"x":-2.06,"y":162},{"x":-2.05,"y":183},{"x":-1.99,"y":172},{"x":-1.97,"y":97},{"x":-2.77,"y":147},{"x":-3.1,"y":90},{"x":-2.95,"y":150},{"x":-2.85,"y":140},
{"x":-1.7,"y":200},{"x":-1.5,"y":210},{"x":-1.3,"y":225},{"x":-1.1,"y":215},{"x":-0.95,"y":230},{"x":-0.8,"y":222},{"x":-0.7,"y":240},{"x":-0.45,"y":228},{"x":-0.35,"y":215},{"x":-0.2,"y":240},{"x":0.0,"y":210},{"x":0.15,"y":205},{"x":0.3,"y":200},{"x":0.4,"y":218},{"x":0.55,"y":195},{"x":0.75,"y":185},{"x":0.9,"y":180},{"x":1.0,"y":170},{"x":1.15,"y":160},{"x":1.3,"y":165},{"x":1.5,"y":145},{"x":1.65,"y":140},{"x":1.8,"y":130},{"x":2.0,"y":125},{"x":2.1,"y":120},{"x":0.6,"y":225},{"x":-1.0,"y":250},{"x":0.8,"y":205},
{"x":-1.9,"y":85},{"x":-1.7,"y":70},{"x":-1.45,"y":62},{"x":-1.3,"y":55},{"x":-1.15,"y":50},{"x":-1.0,"y":45},{"x":-0.85,"y":42},{"x":-0.7,"y":40},{"x":-0.5,"y":38},{"x":-0.35,"y":35},{"x":-0.15,"y":32},{"x":0.0,"y":35},{"x":0.2,"y":30},{"x":0.35,"y":34},{"x":0.5,"y":32},{"x":0.75,"y":36},{"x":0.85,"y":30},{"x":1.05,"y":35},{"x":1.2,"y":38},{"x":1.3,"y":32},{"x":1.55,"y":40},{"x":1.7,"y":36},{"x":2.1,"y":45},{"x":-1.55,"y":80},{"x":-1.2,"y":65},{"x":-0.6,"y":55},{"x":0.45,"y":50},{"x":1.0,"y":50},
{"x":-1.8,"y":130},{"x":-1.6,"y":150},{"x":-1.4,"y":100},{"x":-1.2,"y":180},{"x":-1.0,"y":120},{"x":-0.8,"y":70},{"x":-0.6,"y":200},{"x":-0.4,"y":100},{"x":-0.2,"y":185},{"x":0.0,"y":60},{"x":0.2,"y":170},{"x":0.4,"y":80},{"x":0.6,"y":140},{"x":0.8,"y":62},{"x":1.0,"y":130},{"x":1.2,"y":75},{"x":1.4,"y":120},{"x":1.6,"y":110},{"x":1.8,"y":80},{"x":2.0,"y":95},{"x":2.15,"y":70},{"x":2.3,"y":60},{"x":2.5,"y":65},{"x":2.9,"y":70},{"x":3.0,"y":52},{"x":-2.5,"y":140},{"x":-2.65,"y":120},{"x":-2.4,"y":110},
{"x":-2.2,"y":190},{"x":-2.2,"y":88},{"x":-2.1,"y":186},{"x":-2.1,"y":84},{"x":-2.0,"y":192},{"x":-2.0,"y":80},{"x":-1.9,"y":185},{"x":-1.9,"y":78},{"x":-1.8,"y":188},{"x":-1.8,"y":74},{"x":-1.7,"y":182},{"x":-1.7,"y":72},{"x":-1.6,"y":186},{"x":-1.6,"y":66},{"x":-1.5,"y":178},{"x":-1.5,"y":68},{"x":-1.4,"y":182},{"x":-1.4,"y":62},{"x":-1.3,"y":175},{"x":-1.3,"y":64},{"x":-1.2,"y":180},{"x":-1.2,"y":58},{"x":-1.1,"y":172},{"x":-1.1,"y":60},{"x":-1.0,"y":176},{"x":-1.0,"y":54},{"x":-0.9,"y":168},{"x":-0.9,"y":56},{"x":-0.8,"y":172},{"x":-0.8,"y":50},{"x":-0.7,"y":165},{"x":-0.7,"y":52},{"x":-0.6,"y":168},{"x":-0.6,"y":46},{"x":-0.5,"y":162},{"x":-0.5,"y":48},{"x":-0.4,"y":165},{"x":-0.4,"y":42},{"x":-0.3,"y":158},{"x":-0.3,"y":46},{"x":-0.2,"y":162},{"x":-0.2,"y":40},{"x":-0.1,"y":155},{"x":-0.1,"y":44},{"x":0.0,"y":158},{"x":0.0,"y":38},{"x":0.1,"y":152},{"x":0.1,"y":42},{"x":0.2,"y":155},{"x":0.2,"y":36},{"x":0.3,"y":148},{"x":0.3,"y":40},{"x":0.4,"y":152},{"x":0.4,"y":35},{"x":0.5,"y":145},{"x":0.5,"y":38},{"x":0.6,"y":148},{"x":0.6,"y":34},{"x":0.7,"y":142},{"x":0.7,"y":38},{"x":0.8,"y":145},{"x":0.8,"y":33},{"x":0.9,"y":138},{"x":0.9,"y":36},{"x":1.0,"y":140},{"x":1.0,"y":34},{"x":1.1,"y":134},{"x":1.1,"y":38},{"x":1.2,"y":136},{"x":1.2,"y":35},{"x":1.3,"y":130},{"x":1.3,"y":38},{"x":1.4,"y":132},{"x":1.4,"y":36},{"x":1.5,"y":126},{"x":1.5,"y":40},{"x":1.6,"y":128},{"x":1.6,"y":38},{"x":1.7,"y":122},{"x":1.7,"y":42},{"x":1.8,"y":118},{"x":1.8,"y":40},{"x":1.9,"y":116},{"x":1.9,"y":44},{"x":2.0,"y":112},{"x":2.0,"y":42},{"x":2.1,"y":110},{"x":2.1,"y":46},{"x":2.2,"y":106},{"x":2.2,"y":48},{"x":2.3,"y":104},{"x":2.3,"y":50},{"x":2.4,"y":100},{"x":2.4,"y":52}],
"C_hist":[{"x":-0.96,"y":297},{"x":-0.28,"y":290},{"x":-0.39,"y":279},{"x":-0.83,"y":260},{"x":-0.38,"y":249},{"x":-0.95,"y":243},{"x":-0.61,"y":231},{"x":-0.44,"y":227},{"x":0.19,"y":239},{"x":0.67,"y":227},{"x":1.25,"y":215},{"x":1.5,"y":206},{"x":-0.68,"y":215},{"x":-0.28,"y":210},{"x":-1.93,"y":210},{"x":-1.49,"y":209},{"x":-1.2,"y":210},{"x":-0.95,"y":206},{"x":-0.61,"y":198},{"x":-0.44,"y":202},{"x":-0.27,"y":198},{"x":0.01,"y":202},{"x":0.1,"y":205},{"x":0.16,"y":207},{"x":0.37,"y":198},{"x":0.55,"y":180},{"x":1.12,"y":161},{"x":0.96,"y":156},{"x":0.77,"y":140},{"x":0.99,"y":131},{"x":1.13,"y":128},{"x":1.65,"y":119},{"x":1.36,"y":119},{"x":1.3,"y":117},{"x":-1.36,"y":66},{"x":-1.22,"y":58},{"x":-0.85,"y":47},{"x":-0.09,"y":33},{"x":-0.22,"y":42},{"x":-0.43,"y":44},{"x":0.53,"y":39},{"x":1.48,"y":42},{"x":1.67,"y":42},{"x":1.13,"y":42},{"x":0.1,"y":42},
{"x":1.94,"y":164},{"x":1.98,"y":131},{"x":1.92,"y":114},{"x":2.04,"y":111},{"x":2.11,"y":110},{"x":2.4,"y":102},{"x":2.47,"y":96},{"x":2.65,"y":99},{"x":2.58,"y":73},{"x":2.33,"y":76},{"x":2.23,"y":90},{"x":2.31,"y":54},{"x":2.27,"y":50},{"x":2.15,"y":49},{"x":1.99,"y":31},{"x":1.91,"y":92},{"x":1.97,"y":94},
{"x":-2.14,"y":188},{"x":-2.4,"y":171},{"x":-2.33,"y":162},{"x":-2.46,"y":155},{"x":-2.49,"y":119},{"x":-2.07,"y":72},{"x":-2.0,"y":196},{"x":-1.94,"y":209},{"x":-2.11,"y":128},{"x":-2.06,"y":114},{"x":-1.99,"y":106},{"x":-1.99,"y":163},{"x":-2.26,"y":131},
{"x":-1.78,"y":150},{"x":-1.74,"y":118},{"x":-1.7,"y":170},{"x":-1.66,"y":98},{"x":-1.62,"y":138},{"x":-1.58,"y":80},{"x":-1.54,"y":160},{"x":-1.5,"y":112},{"x":-1.46,"y":185},{"x":-1.42,"y":130},{"x":-1.44,"y":92},{"x":-1.6,"y":195},
{"x":-1.38,"y":145},{"x":-1.35,"y":108},{"x":-1.32,"y":175},{"x":-1.29,"y":82},{"x":-1.26,"y":130},{"x":-1.23,"y":160},{"x":-1.2,"y":95},{"x":-1.17,"y":190},{"x":-1.14,"y":118},{"x":-1.11,"y":70},{"x":-1.08,"y":150},{"x":-1.05,"y":102},{"x":-1.02,"y":135},{"x":-1.3,"y":60},{"x":-1.1,"y":200},{"x":-1.25,"y":220},
{"x":-0.98,"y":125},{"x":-0.96,"y":88},{"x":-0.94,"y":165},{"x":-0.92,"y":108},{"x":-0.9,"y":145},{"x":-0.88,"y":62},{"x":-0.86,"y":185},{"x":-0.84,"y":130},{"x":-0.82,"y":95},{"x":-0.8,"y":155},{"x":-0.78,"y":115},{"x":-0.76,"y":75},{"x":-0.74,"y":140},{"x":-0.72,"y":172},{"x":-0.7,"y":100},{"x":-0.68,"y":55},{"x":-0.66,"y":128},{"x":-0.64,"y":150},{"x":-0.62,"y":85},{"x":-0.6,"y":118},{"x":-0.58,"y":190},{"x":-0.56,"y":68},{"x":-0.54,"y":138},{"x":-0.52,"y":105},{"x":-0.51,"y":160},{"x":-0.75,"y":205},{"x":-0.9,"y":50},{"x":-0.65,"y":220},
{"x":-0.49,"y":92},{"x":-0.47,"y":130},{"x":-0.45,"y":165},{"x":-0.43,"y":60},{"x":-0.41,"y":115},{"x":-0.39,"y":148},{"x":-0.37,"y":82},{"x":-0.35,"y":185},{"x":-0.33,"y":105},{"x":-0.31,"y":135},{"x":-0.29,"y":50},{"x":-0.27,"y":122},{"x":-0.25,"y":170},{"x":-0.23,"y":90},{"x":-0.21,"y":145},{"x":-0.19,"y":70},{"x":-0.17,"y":112},{"x":-0.15,"y":158},{"x":-0.13,"y":98},{"x":-0.11,"y":128},{"x":-0.09,"y":45},{"x":-0.07,"y":140},{"x":-0.05,"y":80},{"x":-0.03,"y":108},{"x":-0.01,"y":175},{"x":-0.3,"y":200},{"x":-0.15,"y":215},{"x":-0.4,"y":40},{"x":-0.2,"y":35},
{"x":0.01,"y":120},{"x":0.03,"y":88},{"x":0.05,"y":150},{"x":0.07,"y":65},{"x":0.09,"y":105},{"x":0.11,"y":135},{"x":0.13,"y":48},{"x":0.15,"y":95},{"x":0.17,"y":165},{"x":0.19,"y":115},{"x":0.21,"y":78},{"x":0.23,"y":140},{"x":0.25,"y":100},{"x":0.27,"y":58},{"x":0.29,"y":125},{"x":0.31,"y":88},{"x":0.33,"y":155},{"x":0.35,"y":110},{"x":0.37,"y":70},{"x":0.39,"y":132},{"x":0.41,"y":92},{"x":0.43,"y":45},{"x":0.45,"y":118},{"x":0.47,"y":145},{"x":0.49,"y":80},{"x":0.25,"y":185},{"x":0.45,"y":175},{"x":0.3,"y":38},
{"x":0.51,"y":102},{"x":0.53,"y":130},{"x":0.55,"y":68},{"x":0.57,"y":115},{"x":0.59,"y":88},{"x":0.61,"y":150},{"x":0.63,"y":55},{"x":0.65,"y":108},{"x":0.67,"y":125},{"x":0.69,"y":78},{"x":0.71,"y":140},{"x":0.73,"y":95},{"x":0.75,"y":60},{"x":0.77,"y":118},{"x":0.79,"y":85},{"x":0.81,"y":135},{"x":0.83,"y":100},{"x":0.85,"y":48},{"x":0.87,"y":112},{"x":0.89,"y":75},{"x":0.91,"y":128},{"x":0.93,"y":90},{"x":0.95,"y":62},{"x":0.97,"y":105},{"x":0.99,"y":118},{"x":0.7,"y":165},{"x":0.88,"y":155},
{"x":1.02,"y":88},{"x":1.05,"y":120},{"x":1.08,"y":65},{"x":1.11,"y":100},{"x":1.14,"y":78},{"x":1.17,"y":135},{"x":1.2,"y":92},{"x":1.23,"y":55},{"x":1.26,"y":110},{"x":1.29,"y":85},{"x":1.32,"y":125},{"x":1.35,"y":70},{"x":1.38,"y":98},{"x":1.41,"y":60},{"x":1.44,"y":115},{"x":1.47,"y":82},{"x":1.49,"y":105},{"x":1.25,"y":145},{"x":1.4,"y":140},
{"x":1.52,"y":90},{"x":1.55,"y":68},{"x":1.58,"y":112},{"x":1.61,"y":80},{"x":1.64,"y":100},{"x":1.67,"y":55},{"x":1.7,"y":92},{"x":1.73,"y":120},{"x":1.76,"y":72},{"x":1.79,"y":88},{"x":1.82,"y":60},{"x":1.85,"y":105},{"x":1.88,"y":78},{"x":1.91,"y":95},{"x":1.94,"y":65},{"x":1.97,"y":85},
{"x":-1.6,"y":92},{"x":-1.6,"y":124},{"x":-1.6,"y":156},{"x":-1.55,"y":107},{"x":-1.55,"y":139},{"x":-1.55,"y":171},{"x":-1.5,"y":80},{"x":-1.5,"y":114},{"x":-1.5,"y":148},{"x":-1.45,"y":97},{"x":-1.45,"y":127},{"x":-1.45,"y":161},{"x":-1.4,"y":88},{"x":-1.4,"y":120},{"x":-1.4,"y":152},{"x":-1.35,"y":104},{"x":-1.35,"y":136},{"x":-1.35,"y":168},{"x":-1.3,"y":77},{"x":-1.3,"y":111},{"x":-1.3,"y":145},{"x":-1.25,"y":94},{"x":-1.25,"y":124},{"x":-1.25,"y":158},{"x":-1.2,"y":85},{"x":-1.2,"y":117},{"x":-1.2,"y":149},{"x":-1.15,"y":100},{"x":-1.15,"y":132},{"x":-1.15,"y":164},{"x":-1.1,"y":74},{"x":-1.1,"y":108},{"x":-1.1,"y":142},{"x":-1.05,"y":91},{"x":-1.05,"y":121},{"x":-1.05,"y":155},{"x":-1.0,"y":82},{"x":-1.0,"y":114},{"x":-1.0,"y":146},{"x":-0.95,"y":97},{"x":-0.95,"y":129},{"x":-0.95,"y":161},{"x":-0.9,"y":70},{"x":-0.9,"y":104},{"x":-0.9,"y":138},{"x":-0.85,"y":88},{"x":-0.85,"y":118},{"x":-0.85,"y":152},{"x":-0.8,"y":79},{"x":-0.8,"y":111},{"x":-0.8,"y":143},{"x":-0.75,"y":94},{"x":-0.75,"y":126},{"x":-0.75,"y":158},{"x":-0.7,"y":67},{"x":-0.7,"y":101},{"x":-0.7,"y":135},{"x":-0.65,"y":84},{"x":-0.65,"y":114},{"x":-0.65,"y":148},{"x":-0.6,"y":76},{"x":-0.6,"y":108},{"x":-0.6,"y":140},{"x":-0.55,"y":91},{"x":-0.55,"y":123},{"x":-0.55,"y":155},{"x":-0.5,"y":64},{"x":-0.5,"y":98},{"x":-0.5,"y":132},{"x":-0.45,"y":81},{"x":-0.45,"y":111},{"x":-0.45,"y":145},{"x":-0.4,"y":72},{"x":-0.4,"y":104},{"x":-0.4,"y":136},{"x":-0.35,"y":88},{"x":-0.35,"y":120},{"x":-0.35,"y":152},{"x":-0.3,"y":61},{"x":-0.3,"y":95},{"x":-0.3,"y":129},{"x":-0.25,"y":78},{"x":-0.25,"y":108},{"x":-0.25,"y":142},{"x":-0.2,"y":69},{"x":-0.2,"y":101},{"x":-0.2,"y":133},{"x":-0.15,"y":84},{"x":-0.15,"y":116},{"x":-0.15,"y":148},{"x":-0.1,"y":58},{"x":-0.1,"y":92},{"x":-0.1,"y":126},{"x":-0.05,"y":75},{"x":-0.05,"y":105},{"x":-0.05,"y":139},{"x":0.0,"y":66},{"x":0.0,"y":98},{"x":0.0,"y":130},{"x":0.05,"y":81},{"x":0.05,"y":113},{"x":0.05,"y":145},{"x":0.1,"y":54},{"x":0.1,"y":88},{"x":0.1,"y":122},{"x":0.15,"y":72},{"x":0.15,"y":102},{"x":0.15,"y":136},{"x":0.2,"y":63},{"x":0.2,"y":95},{"x":0.2,"y":127},{"x":0.25,"y":78},{"x":0.25,"y":110},{"x":0.25,"y":142},{"x":0.3,"y":51},{"x":0.3,"y":85},{"x":0.3,"y":119},{"x":0.35,"y":68},{"x":0.35,"y":98},{"x":0.35,"y":132},{"x":0.4,"y":60},{"x":0.4,"y":92},{"x":0.4,"y":124},{"x":0.45,"y":75},{"x":0.45,"y":107},{"x":0.45,"y":139},{"x":0.5,"y":48},{"x":0.5,"y":82},{"x":0.5,"y":116},{"x":0.55,"y":65},{"x":0.55,"y":95},{"x":0.55,"y":129},{"x":0.6,"y":56},{"x":0.6,"y":88},{"x":0.6,"y":120},{"x":0.65,"y":72},{"x":0.65,"y":104},{"x":0.65,"y":136},{"x":0.7,"y":45},{"x":0.7,"y":79},{"x":0.7,"y":113},{"x":0.75,"y":62},{"x":0.75,"y":92},{"x":0.75,"y":126},{"x":0.8,"y":53},{"x":0.8,"y":85},{"x":0.8,"y":117},{"x":0.85,"y":68},{"x":0.85,"y":100},{"x":0.85,"y":132},{"x":0.9,"y":42},{"x":0.9,"y":76},{"x":0.9,"y":110},{"x":0.95,"y":59},{"x":0.95,"y":89},{"x":0.95,"y":123},{"x":1.0,"y":50},{"x":1.0,"y":82},{"x":1.0,"y":114},{"x":1.05,"y":65},{"x":1.05,"y":97},{"x":1.05,"y":129},{"x":1.1,"y":40},{"x":1.1,"y":72},{"x":1.1,"y":106},{"x":1.15,"y":56},{"x":1.15,"y":86},{"x":1.15,"y":120},{"x":1.2,"y":47},{"x":1.2,"y":79},{"x":1.2,"y":111},{"x":1.25,"y":62},{"x":1.25,"y":94},{"x":1.25,"y":126},{"x":1.3,"y":40},{"x":1.3,"y":69},{"x":1.3,"y":103},{"x":1.35,"y":52},{"x":1.35,"y":82},{"x":1.35,"y":116},{"x":1.4,"y":44},{"x":1.4,"y":76},{"x":1.4,"y":108},{"x":1.45,"y":59},{"x":1.45,"y":91},{"x":1.45,"y":118},{"x":1.5,"y":42},{"x":1.5,"y":66},{"x":1.5,"y":100},{"x":1.55,"y":49},{"x":1.55,"y":79},{"x":1.55,"y":113},{"x":1.6,"y":42},{"x":1.6,"y":72},{"x":1.6,"y":104},{"x":1.65,"y":56},{"x":1.65,"y":88},{"x":1.65,"y":116},{"x":1.7,"y":44},{"x":1.7,"y":63},{"x":1.7,"y":97},{"x":1.75,"y":46},{"x":1.75,"y":76},{"x":1.75,"y":108},{"x":1.8,"y":43},{"x":1.8,"y":70},{"x":1.8,"y":100},{"x":1.85,"y":52},{"x":1.85,"y":84},{"x":1.85,"y":108}]
},
"vconcat":[
{"width":868,"height":249,
"layer":[
{"data":{"name":"A_pi"},"mark":{"type":"point","shape":"circle","filled":false,"stroke":"#2e3192","strokeWidth":1.4,"size":32,"opacity":1},
"encoding":{"x":{"field":"x","type":"quantitative","scale":{"domain":[-4,4],"nice":false},"axis":{"values":[-4,-3,-2,-1,0,1,2,3,4],"labels":false,"title":null}},
"y":{"field":"y","type":"quantitative","scale":{"domain":[0,300],"nice":false},"axis":{"values":[0,50,100,150,200,250,300],"labelExpr":"datum.value % 100 == 0 && datum.value > 0 ? datum.label : ''","labelPadding":16,"title":null}}}},
{"data":{"name":"A_hist"},"mark":{"type":"circle","color":"#ed1c24","size":100,"opacity":1},
"encoding":{"x":{"field":"x","type":"quantitative","scale":{"domain":[-4,4],"nice":false},"axis":{"values":[-4,-3,-2,-1,0,1,2,3,4],"labels":false,"title":null}},
"y":{"field":"y","type":"quantitative","scale":{"domain":[0,300],"nice":false},"axis":{"values":[0,50,100,150,200,250,300],"labelExpr":"datum.value % 100 == 0 && datum.value > 0 ? datum.label : ''","labelPadding":16,"title":null}}}},
{"data":{"name":"lines"},"transform":[{"filter":"datum.p == 'A'"}],"mark":{"type":"line","strokeWidth":5,"strokeCap":"butt"},
"encoding":{"x":{"field":"x","type":"quantitative","scale":{"domain":[-4,4],"nice":false},"axis":{"values":[-4,-3,-2,-1,0,1,2,3,4],"labels":false,"title":null}},
"y":{"field":"y","type":"quantitative","scale":{"domain":[0,300],"nice":false},"axis":{"values":[0,50,100,150,200,250,300],"labelExpr":"datum.value % 100 == 0 && datum.value > 0 ? datum.label : ''","labelPadding":16,"title":null}},
"color":{"field":"s","type":"nominal","scale":{"domain":["Historical","piControl"],"range":["#ed1c24","#2e3192"]},"legend":{"orient":"none","legendX":669,"legendY":2,"title":null,"symbolType":"M-2,0H2","symbolSize":812,"symbolStrokeWidth":3,"labelFontSize":30,"labelFont":"Liberation Sans","labelColor":"#231f20","labelOffset":27,"rowPadding":3,"padding":0}}}},
{"data":{"name":"labels"},"transform":[{"filter":"datum.p == 'A'"}],"mark":{"type":"text","align":"left","baseline":"alphabetic","fontSize":33,"font":"Liberation Sans","color":"#231f20"},
"encoding":{"x":{"datum":-3.926,"type":"quantitative","scale":{"domain":[-4,4],"nice":false},"axis":{"values":[-4,-3,-2,-1,0,1,2,3,4],"labels":false,"title":null}},
"y":{"datum":264,"type":"quantitative","scale":{"domain":[0,300],"nice":false},"axis":{"values":[0,50,100,150,200,250,300],"labelExpr":"datum.value % 100 == 0 && datum.value > 0 ? datum.label : ''","labelPadding":16,"title":null}},"text":{"field":"label","type":"nominal"}}}
]},
{"width":868,"height":249,
"layer":[
{"data":{"name":"B_pi"},"mark":{"type":"point","shape":"circle","filled":false,"stroke":"#2e3192","strokeWidth":1.4,"size":32,"opacity":1},
"encoding":{"x":{"field":"x","type":"quantitative","scale":{"domain":[-4,4],"nice":false},"axis":{"values":[-4,-3,-2,-1,0,1,2,3,4],"labels":false,"title":null}},
"y":{"field":"y","type":"quantitative","scale":{"domain":[0,300],"nice":false},"axis":{"values":[0,50,100,150,200,250,300],"labelExpr":"datum.value % 100 == 0 && datum.value > 0 ? datum.label : ''","labelPadding":16,"title":"Standardised precipitation anomalies","titleFontSize":37,"titleX":-120,"titleY":114,"titleBaseline":"middle","titleAlign":"center","titleAngle":270}}}},
{"data":{"name":"B_hist"},"mark":{"type":"circle","color":"#ed1c24","size":100,"opacity":1},
"encoding":{"x":{"field":"x","type":"quantitative","scale":{"domain":[-4,4],"nice":false},"axis":{"values":[-4,-3,-2,-1,0,1,2,3,4],"labels":false,"title":null}},
"y":{"field":"y","type":"quantitative","scale":{"domain":[0,300],"nice":false},"axis":{"values":[0,50,100,150,200,250,300],"labelExpr":"datum.value % 100 == 0 && datum.value > 0 ? datum.label : ''","labelPadding":16,"title":"Standardised precipitation anomalies","titleFontSize":37,"titleX":-120,"titleY":114,"titleBaseline":"middle","titleAlign":"center","titleAngle":270}}}},
{"data":{"name":"lines"},"transform":[{"filter":"datum.p == 'B'"}],"mark":{"type":"line","strokeWidth":5,"strokeCap":"butt"},
"encoding":{"x":{"field":"x","type":"quantitative","scale":{"domain":[-4,4],"nice":false},"axis":{"values":[-4,-3,-2,-1,0,1,2,3,4],"labels":false,"title":null}},
"y":{"field":"y","type":"quantitative","scale":{"domain":[0,300],"nice":false},"axis":{"values":[0,50,100,150,200,250,300],"labelExpr":"datum.value % 100 == 0 && datum.value > 0 ? datum.label : ''","labelPadding":16,"title":"Standardised precipitation anomalies","titleFontSize":37,"titleX":-120,"titleY":114,"titleBaseline":"middle","titleAlign":"center","titleAngle":270}},
"color":{"field":"s","type":"nominal","scale":{"domain":["Historical","piControl"],"range":["#ed1c24","#2e3192"]},"legend":{"orient":"none","legendX":669,"legendY":19,"title":null,"symbolType":"M-2,0H2","symbolSize":812,"symbolStrokeWidth":3,"labelFontSize":30,"labelFont":"Liberation Sans","labelColor":"#231f20","labelOffset":27,"rowPadding":3,"padding":0}}}},
{"data":{"name":"labels"},"transform":[{"filter":"datum.p == 'B'"}],"mark":{"type":"text","align":"left","baseline":"alphabetic","fontSize":33,"font":"Liberation Sans","color":"#231f20"},
"encoding":{"x":{"datum":-3.926,"type":"quantitative","scale":{"domain":[-4,4],"nice":false},"axis":{"values":[-4,-3,-2,-1,0,1,2,3,4],"labels":false,"title":null}},
"y":{"datum":261,"type":"quantitative","scale":{"domain":[0,300],"nice":false},"axis":{"values":[0,50,100,150,200,250,300],"labelExpr":"datum.value % 100 == 0 && datum.value > 0 ? datum.label : ''","labelPadding":16,"title":"Standardised precipitation anomalies","titleFontSize":37,"titleX":-120,"titleY":114,"titleBaseline":"middle","titleAlign":"center","titleAngle":270}},"text":{"field":"label","type":"nominal"}}}
]},
{"width":868,"height":249,
"layer":[
{"data":{"name":"C_pi"},"mark":{"type":"point","shape":"circle","filled":false,"stroke":"#2e3192","strokeWidth":1.4,"size":32,"opacity":1},
"encoding":{"x":{"field":"x","type":"quantitative","scale":{"domain":[-4,4],"nice":false},"axis":{"values":[-4,-3,-2,-1,0,1,2,3,4],"labelExpr":"'' + datum.value","labelFlush":false,"labelOverlap":false,"labelBound":false,"labelPadding":{"condition":{"test":"datum.value == -4","value":3},"value":18},"labelOffset":{"condition":{"test":"datum.value == -4","value":-25},"value":0},"title":"NINO3.4 anomalies (K)","titleFontSize":33,"titleX":409,"titleY":70,"titleBaseline":"middle","titleAlign":"center"}},
"y":{"field":"y","type":"quantitative","scale":{"domain":[0,300],"nice":false},"axis":{"values":[0,50,100,150,200,250,300],"labelExpr":"datum.value % 100 == 0 ? datum.label : ''","labelPadding":{"condition":{"test":"datum.value == 0","value":26},"value":16},"labelOffset":{"condition":{"test":"datum.value == 0","value":-4},"value":0},"title":null}}}},
{"data":{"name":"C_hist"},"mark":{"type":"circle","color":"#ed1c24","size":100,"opacity":1},
"encoding":{"x":{"field":"x","type":"quantitative","scale":{"domain":[-4,4],"nice":false},"axis":{"values":[-4,-3,-2,-1,0,1,2,3,4],"labelExpr":"'' + datum.value","labelFlush":false,"labelOverlap":false,"labelBound":false,"labelPadding":{"condition":{"test":"datum.value == -4","value":3},"value":18},"labelOffset":{"condition":{"test":"datum.value == -4","value":-25},"value":0},"title":"NINO3.4 anomalies (K)","titleFontSize":33,"titleX":409,"titleY":70,"titleBaseline":"middle","titleAlign":"center"}},
"y":{"field":"y","type":"quantitative","scale":{"domain":[0,300],"nice":false},"axis":{"values":[0,50,100,150,200,250,300],"labelExpr":"datum.value % 100 == 0 ? datum.label : ''","labelPadding":{"condition":{"test":"datum.value == 0","value":26},"value":16},"labelOffset":{"condition":{"test":"datum.value == 0","value":-4},"value":0},"title":null}}}},
{"data":{"name":"lines"},"transform":[{"filter":"datum.p == 'C'"}],"mark":{"type":"line","strokeWidth":5,"strokeCap":"butt"},
"encoding":{"x":{"field":"x","type":"quantitative","scale":{"domain":[-4,4],"nice":false},"axis":{"values":[-4,-3,-2,-1,0,1,2,3,4],"labelExpr":"'' + datum.value","labelFlush":false,"labelOverlap":false,"labelBound":false,"labelPadding":{"condition":{"test":"datum.value == -4","value":3},"value":18},"labelOffset":{"condition":{"test":"datum.value == -4","value":-25},"value":0},"title":"NINO3.4 anomalies (K)","titleFontSize":33,"titleX":409,"titleY":70,"titleBaseline":"middle","titleAlign":"center"}},
"y":{"field":"y","type":"quantitative","scale":{"domain":[0,300],"nice":false},"axis":{"values":[0,50,100,150,200,250,300],"labelExpr":"datum.value % 100 == 0 ? datum.label : ''","labelPadding":{"condition":{"test":"datum.value == 0","value":26},"value":16},"labelOffset":{"condition":{"test":"datum.value == 0","value":-4},"value":0},"title":null}},
"color":{"field":"s","type":"nominal","scale":{"domain":["Historical","piControl"],"range":["#ed1c24","#2e3192"]},"legend":{"orient":"none","legendX":669,"legendY":19,"title":null,"symbolType":"M-2,0H2","symbolSize":812,"symbolStrokeWidth":3,"labelFontSize":30,"labelFont":"Liberation Sans","labelColor":"#231f20","labelOffset":27,"rowPadding":3,"padding":0}}}},
{"data":{"name":"labels"},"transform":[{"filter":"datum.p == 'C'"}],"mark":{"type":"text","align":"left","baseline":"alphabetic","fontSize":33,"font":"Liberation Sans","color":"#231f20"},
"encoding":{"x":{"datum":-3.926,"type":"quantitative","scale":{"domain":[-4,4],"nice":false},"axis":{"values":[-4,-3,-2,-1,0,1,2,3,4],"labelExpr":"'' + datum.value","labelFlush":false,"labelOverlap":false,"labelBound":false,"labelPadding":{"condition":{"test":"datum.value == -4","value":3},"value":18},"labelOffset":{"condition":{"test":"datum.value == -4","value":-25},"value":0},"title":"NINO3.4 anomalies (K)","titleFontSize":33,"titleX":409,"titleY":70,"titleBaseline":"middle","titleAlign":"center"}},
"y":{"datum":259,"type":"quantitative","scale":{"domain":[0,300],"nice":false},"axis":{"values":[0,50,100,150,200,250,300],"labelExpr":"datum.value % 100 == 0 ? datum.label : ''","labelPadding":{"condition":{"test":"datum.value == 0","value":26},"value":16},"labelOffset":{"condition":{"test":"datum.value == 0","value":-4},"value":0},"title":null}},"text":{"field":"label","type":"nominal"}}}
]}
],
"spacing":16.5,
"bounds":"flush",
"resolve":{"scale":{"color":"independent"},"legend":{"color":"independent"}}
}
